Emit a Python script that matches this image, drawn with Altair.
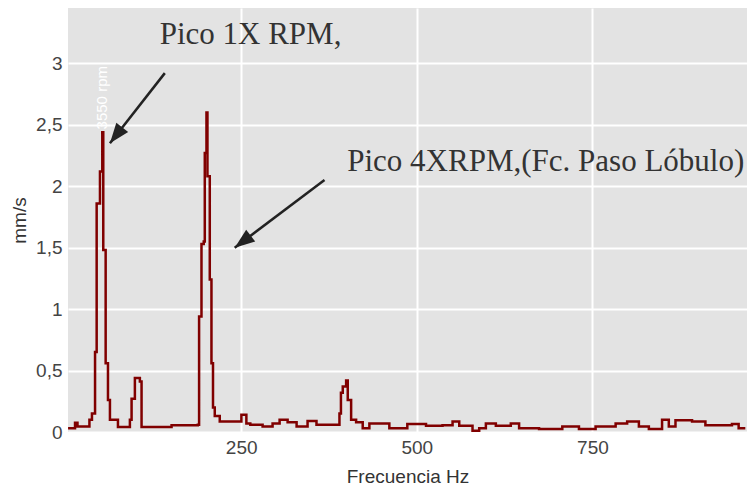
import altair as alt
import pandas as pd

# Spectrum (frequency in Hz, velocity in mm/s)
freq = [3.6, 10, 13.5, 17, 30, 34, 37.6, 42, 44.3, 49, 52.3, 53.7, 57.1, 60.4, 63.2, 74.6,
        91.6, 94, 98.7, 102, 105.8, 108.2, 150.9, 188.2, 190.1, 193.5, 196.7, 198.2, 200.6,
        202, 205.3, 207.7, 209.9, 212.4, 219.5, 243.2, 250.3, 257.4, 263, 280.5, 294.7,
        304.7, 316.1, 328.9, 344.5, 357.2, 385.7, 389.9, 392, 394.6, 399.4, 401.7, 406.5,
        413.6, 423, 432.5, 451, 460.9, 479.8, 486.5, 513.1, 536.6, 550.9, 560.4, 579.3,
        588.8, 598.3, 612.5, 633.8, 645.6, 674, 707.1, 730.8, 754.5, 783, 799.4, 816.1,
        830.3, 849.1, 858.7, 868.2, 891.8, 910.8, 948.6, 958.1, 967.6]
vel = [0.03, 0.03, 0.075, 0.045, 0.045, 0.1, 0.15, 0.65, 1.86, 2.12, 2.44, 1.48, 0.56, 0.26,
       0.1, 0.04, 0.1, 0.27, 0.44, 0.44, 0.41, 0.04, 0.055, 0.06, 0.94, 1.53, 1.55, 2.27,
       2.6, 2.08, 1.24, 0.56, 0.2, 0.13, 0.085, 0.085, 0.14, 0.07, 0.06, 0.045, 0.07, 0.1,
       0.08, 0.045, 0.09, 0.06, 0.06, 0.15, 0.32, 0.37, 0.42, 0.26, 0.1, 0.08, 0.03, 0.07,
       0.07, 0.03, 0.03, 0.065, 0.05, 0.055, 0.085, 0.05, 0.01, 0.03, 0.07, 0.05, 0.07,
       0.03, 0.025, 0.045, 0.025, 0.045, 0.07, 0.085, 0.045, 0.025, 0.1, 0.045, 0.095,
       0.085, 0.055, 0.065, 0.03, 0.03]

x_ticks = [250, 500, 750]
y_ticks = [0, 0.5, 1, 1.5, 2, 2.5, 3]

# Annotations (in data units)
ann_text = ["Pico 1X RPM,", "Pico 4XRPM,(Fc. Paso Lóbulo)"]
ann_x = [134.0, 401.0]
ann_y = [3.16, 2.12]
arrow_x0 = [141.3, 368.6]
arrow_y0 = [2.92, 2.05]
arrow_x1 = [63.2, 240.8]
arrow_y1 = [2.35, 1.50]
arrow_angle = [218, 233]
rpm_label = ["3550 rpm"]
rpm_x = [52.0]
rpm_y = [2.72]

X_DOMAIN = [3.5, 970]
Y_DOMAIN = [0, 3.45]

spec = pd.DataFrame({"f": freq, "v": vel})
ann = pd.DataFrame({"t": ann_text, "x": ann_x, "y": ann_y})
arr = pd.DataFrame({"x0": arrow_x0, "y0": arrow_y0, "x1": arrow_x1, "y1": arrow_y1,
                    "a": arrow_angle})
rpm = pd.DataFrame({"t": rpm_label, "x": rpm_x, "y": rpm_y})

xs = alt.Scale(domain=X_DOMAIN, nice=False, zero=False)
ys = alt.Scale(domain=Y_DOMAIN, nice=False)

x_axis = alt.Axis(values=x_ticks, title="Frecuencia Hz", grid=True, domain=False,
                  ticks=False, labelPadding=6, titlePadding=10)
y_axis = alt.Axis(values=y_ticks, title="mm/s", grid=True, domain=False, ticks=False,
                  labelPadding=6, titlePadding=6,
                  labelExpr="replace(format(datum.value, '~g'), '.', ',')")

line = alt.Chart(spec).mark_line(color="#800000", strokeWidth=2.5,
                                 interpolate="step-after").encode(
    x=alt.X("f:Q", scale=xs, axis=x_axis),
    y=alt.Y("v:Q", scale=ys, axis=y_axis),
)

arrow_lines = alt.Chart(arr).mark_rule(color="#222222", strokeWidth=2.5).encode(
    x=alt.X("x0:Q", scale=xs), y=alt.Y("y0:Q", scale=ys),
    x2="x1:Q", y2="y1:Q",
)

arrow_heads = alt.Chart(arr).mark_point(
    shape="M0,0L-0.75,2L0.75,2Z", filled=True, color="#222222", opacity=1, size=400
).encode(
    x=alt.X("x1:Q", scale=xs), y=alt.Y("y1:Q", scale=ys),
    angle=alt.Angle("a:Q", scale=None),
)

texts = alt.Chart(ann).mark_text(
    font="Liberation Serif", fontSize=31, color="#333333", align="left",
    baseline="alphabetic"
).encode(
    x=alt.X("x:Q", scale=xs), y=alt.Y("y:Q", scale=ys), text="t:N",
)

rpm_text = alt.Chart(rpm).mark_text(
    font="Liberation Sans Narrow, Liberation Sans", fontSize=15, color="white",
    angle=270, align="center", baseline="middle"
).encode(
    x=alt.X("x:Q", scale=xs), y=alt.Y("y:Q", scale=ys), text="t:N",
)

chart = alt.layer(line, arrow_lines, arrow_heads, texts, rpm_text).properties(
    width=679, height=424,
    autosize=alt.AutoSizeParams(type="none"),
    padding={"left": 68, "top": 8, "right": 0, "bottom": 54},
    background="white",
).configure_view(
    fill="#E3E3E3", stroke=None
).configure_axis(
    gridColor="white", gridWidth=2, labelFont="Liberation Sans", labelFontSize=19,
    labelColor="#444444", titleFont="Liberation Sans", titleFontSize=19,
    titleColor="#333333", titleFontWeight="normal"
)

chart.save("out.html", embed_options={"renderer": "svg", "actions": False})
